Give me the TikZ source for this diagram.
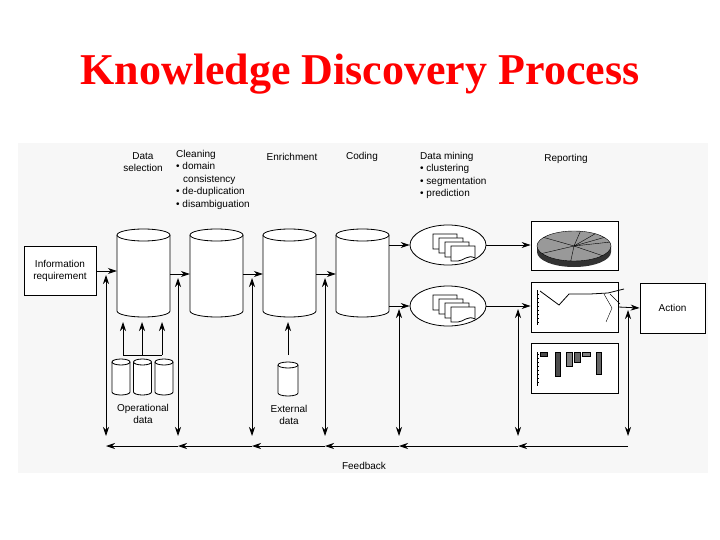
\documentclass[tikz,border=0pt]{standalone}
\usepackage{fontspec}
\setmainfont{Liberation Sans}
\newfontfamily\titlefont{Liberation Serif}
\usetikzlibrary{shapes.geometric,arrows.meta}
\newcommand\mycyl[6]{% name, cx, top, bottom, rx, ry
  \draw[thick,fill=white] (#2-#5,#3) -- (#2-#5,#4) arc[start angle=180,end angle=0,x radius=#5,y radius=#6] -- (#2+#5,#3);
  \draw[thick,fill=white] (#2,#3) ellipse[x radius=#5,y radius=#6];
  \node[inner sep=0,minimum width=2*#5 pt,minimum height=#4-#3+#6] (#1) at (#2,{(#3+#4)/2}) {};
}
\begin{document}
\begin{tikzpicture}[x=1pt,y=-1pt,
  txt/.style={font=\fontsize{10}{12}\selectfont,align=center,inner sep=0},
  lst/.style={font=\fontsize{10}{12.5}\selectfont,align=left,inner sep=0,anchor=north west},
  box/.style={draw,thick,fill=white,inner sep=0},
  arr/.style={-{Stealth[length=9pt,width=6pt]},thick},
  darr/.style={{Stealth[length=9pt,width=6pt]}-{Stealth[length=9pt,width=6pt]},thick}]
\useasboundingbox (0,0) rectangle (720,540);
\fill[white] (0,0) rectangle (720,540);
\fill[black!3] (18,143) rectangle (708,473);
\node[font=\titlefont\bfseries\fontsize{44}{46}\selectfont,text=red] (title) at (360,74) {Knowledge Discovery Process};
% headers
\node[txt] (hsel) at (143,162) {Data\\selection};
\node[lst] (hclean) at (176,150) {Cleaning\\\textbullet\ domain\\\hspace{0.7em}consistency\\\textbullet\ de-duplication\\\textbullet\ disambiguation};
\node[txt] (henr) at (292,157) {Enrichment};
\node[txt] (hcod) at (362,157) {Coding};
\node[lst] (hmin) at (420,152) {Data mining\\\textbullet\ clustering\\\textbullet\ segmentation\\\textbullet\ prediction};
\node[txt] (hrep) at (566,159) {Reporting};
% info box
\node[box,minimum width=72pt,minimum height=49pt,txt] (info) at (60,271) {Information\\requirement};
% cylinders
\mycyl{c1}{143.5}{235}{311}{26.5}{6}
\mycyl{c2}{216.5}{235}{311}{26.5}{6}
\mycyl{c3}{289.5}{235}{311}{26.5}{6}
\mycyl{c4}{362.5}{235}{311}{26.5}{6}
\draw[arr] (info.east) -- (c1.west|-info.east);
\draw[arr] (170,274) -- (c2.west|-0,274);
\draw[arr] (243,274) -- (c3.west|-0,274);
\draw[arr] (316,274) -- (c4.west|-0,274);
% mining ellipses
\node[draw,thick,ellipse,minimum width=76pt,minimum height=40pt,fill=white] (e1) at (448,245) {};
\node[draw,thick,ellipse,minimum width=76pt,minimum height=40pt,fill=white] (e2) at (448,306) {};
\draw[arr] (389,245) -- (e1.west);
\draw[arr] (389,306) -- (e2.west);
\foreach \cy in {245,306}{
  \foreach \i in {0,1,2,3}{
    \draw[thick,fill=white] (433+6*\i,\cy-11+4*\i) -- ++(24,0) -- ++(0,12) .. controls ++(-7,-4) and ++(5,0) .. ++(-17,3) -- ++(-7,0) -- cycle;
  }
}
% report boxes
\node[box,minimum width=87pt,minimum height=49pt] (pie) at (574.5,245.5) {};
\node[box,minimum width=87pt,minimum height=50pt] (line) at (574.5,307) {};
\node[box,minimum width=87pt,minimum height=50pt] (bar) at (574.5,368) {};
\node[box,minimum width=65pt,minimum height=50pt,txt] (act) at (672.5,308) {Action};
\draw[arr] (e1.east) -- (pie.west|-e1.east);
\draw[arr] (e2.east) -- (line.west|-e2.east);
\draw[arr] (line.east) -- (act.west);
% pie chart
\fill[black!80] (537,246) -- (537,252) arc[start angle=180,end angle=0,x radius=37,y radius=15] -- (611,246) -- cycle;
\draw[fill=black!40] (574,246) ellipse[x radius=37,y radius=15];
\foreach \a in {40,95,150,215,280,305,325,345}{\draw (574,246) -- ++(\a:37 and 15);}
% line chart
\draw (537,290) -- (537,325);
\foreach \t in {294,298,...,322}{\draw (537,\t) -- (539,\t);}
\draw[thick] (540,291) -- (559,305) -- (569,294) -- (590,294) -- (608,293) -- (624,289);
\draw (604,294) -- (612,308) -- (606,322) (610,294) -- (620,304);
% bar chart
\draw (537,352) -- (537,386);
\foreach \t in {354,358,...,382}{\draw (537,\t) -- (539,\t);}
\draw[fill=black!70] (540,352) rectangle (547,356);
\draw[fill=black!70] (555,352) rectangle (560,376);
\draw[fill=black!50] (566,352) rectangle (572,366);
\draw[fill=black!60] (574,352) rectangle (580,362);
\draw[fill=black!50] (582,352) rectangle (590,356);
\draw[fill=black!60] (596,352) rectangle (601,374);
% small cylinders
\mycyl{o1}{121}{362}{392}{9}{3}
\mycyl{o2}{142.5}{362}{392}{9}{3}
\mycyl{o3}{164}{362}{392}{9}{3}
\node[txt] (olab) at (143,414) {Operational\\data};
\coordinate (b1) at (123,355); \coordinate (b3) at (162,355); \coordinate (b2) at (142,355);
\draw[thick] (b1) -- (b3);
\foreach \b/\xx in {b1/123,b2/142,b3/162}{\draw[arr] (\b) -- (\xx,322);}
\mycyl{ext}{288}{365}{393}{10}{3}
\node[txt] (elab) at (289,415) {External\\data};
\coordinate (eb) at (288,355);
\draw[arr] (eb) -- (288,322);
% feedback
\foreach \n/\xx/\ya in {f1/106/275,f2/178/278,f3/252/278,f4/325/278,f5/399/309,f6/518/309,f7/628/310}{
  \coordinate (\n t) at (\xx,\ya); \coordinate (\n b) at (\xx,436); \coordinate (\n h) at (\xx,446);
  \draw[darr] (\n t) -- (\n b);
}
\draw[arr] (f7h) -- (f6h); \draw[arr] (f6h) -- (f5h); \draw[arr] (f5h) -- (f4h);
\draw[arr] (f4h) -- (f3h); \draw[arr] (f3h) -- (f2h); \draw[arr] (f2h) -- (f1h);
\node[txt] (fb) at (364,466) {Feedback};
\end{tikzpicture}
\end{document}
